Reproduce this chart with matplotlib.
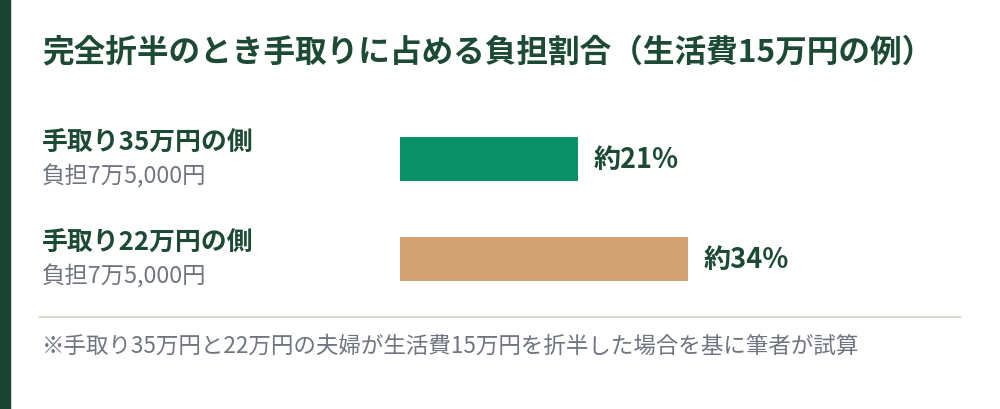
import matplotlib
matplotlib.use('Agg')
import matplotlib.pyplot as plt
from matplotlib.patches import Rectangle
from matplotlib.lines import Line2D

plt.rcParams['font.family'] = ['Noto Sans CJK JP', 'DejaVu Sans']

title = '完全折半のとき手取りに占める負担割合（生活費15万円の例）'
labels = ['手取り35万円の側', '手取り22万円の側']
sublabels = ['負担7万5,000円', '負担7万5,000円']
shares = [21, 34]
value_labels = ['約21%', '約34%']
bar_colors = ['#0a9168', '#d3a373']
note = '※手取り35万円と22万円の夫婦が生活費15万円を折半した場合を基に筆者が試算'

DARK = '#1c4a34'
GREY = '#6f7480'

W, H = 1000, 410


def fy(py):
    return 1 - py / H


def main():
    fig = plt.figure(figsize=(W / 100, H / 100), dpi=100)
    fig.patch.set_facecolor('white')

    # left accent stripe
    fig.patches.append(Rectangle((0, 0), 10 / W, 1, transform=fig.transFigure,
                                 color='#1b4332', zorder=0))

    fig.text(42 / W, fy(52), title, fontsize=22.8, fontweight='bold',
             color=DARK, va='center', ha='left')

    ax = fig.add_axes([400 / W, fy(310), 560 / W, 200 / H])
    ypos = [0.5, 1.5]
    ax.barh(ypos, shares, height=0.44, color=bar_colors)
    ax.set_xlim(0, 560 / 8.48)
    ax.set_ylim(2, 0)
    ax.axis('off')
    for y, v, t in zip(ypos, shares, value_labels):
        ax.text(v + 1.8, y, t, fontsize=19.5, fontweight='bold', color=DARK,
                va='center', ha='left')

    for i, (lab, sub) in enumerate(zip(labels, sublabels)):
        base = 143 + 100 * i
        fig.text(42 / W, fy(base), lab, fontsize=18.6, fontweight='bold',
                 color=DARK, va='center', ha='left')
        fig.text(42 / W, fy(base + 34), sub, fontsize=16.8, color=GREY,
                 va='center', ha='left')

    fig.add_artist(Line2D([40 / W, 960 / W], [fy(318), fy(318)],
                          transform=fig.transFigure, color='#dcd8cb', lw=1.5))

    fig.text(42 / W, fy(346), note, fontsize=16.2, color=GREY,
             va='center', ha='left')

    fig.savefig('out.png', dpi=100)


if __name__ == '__main__':
    main()
